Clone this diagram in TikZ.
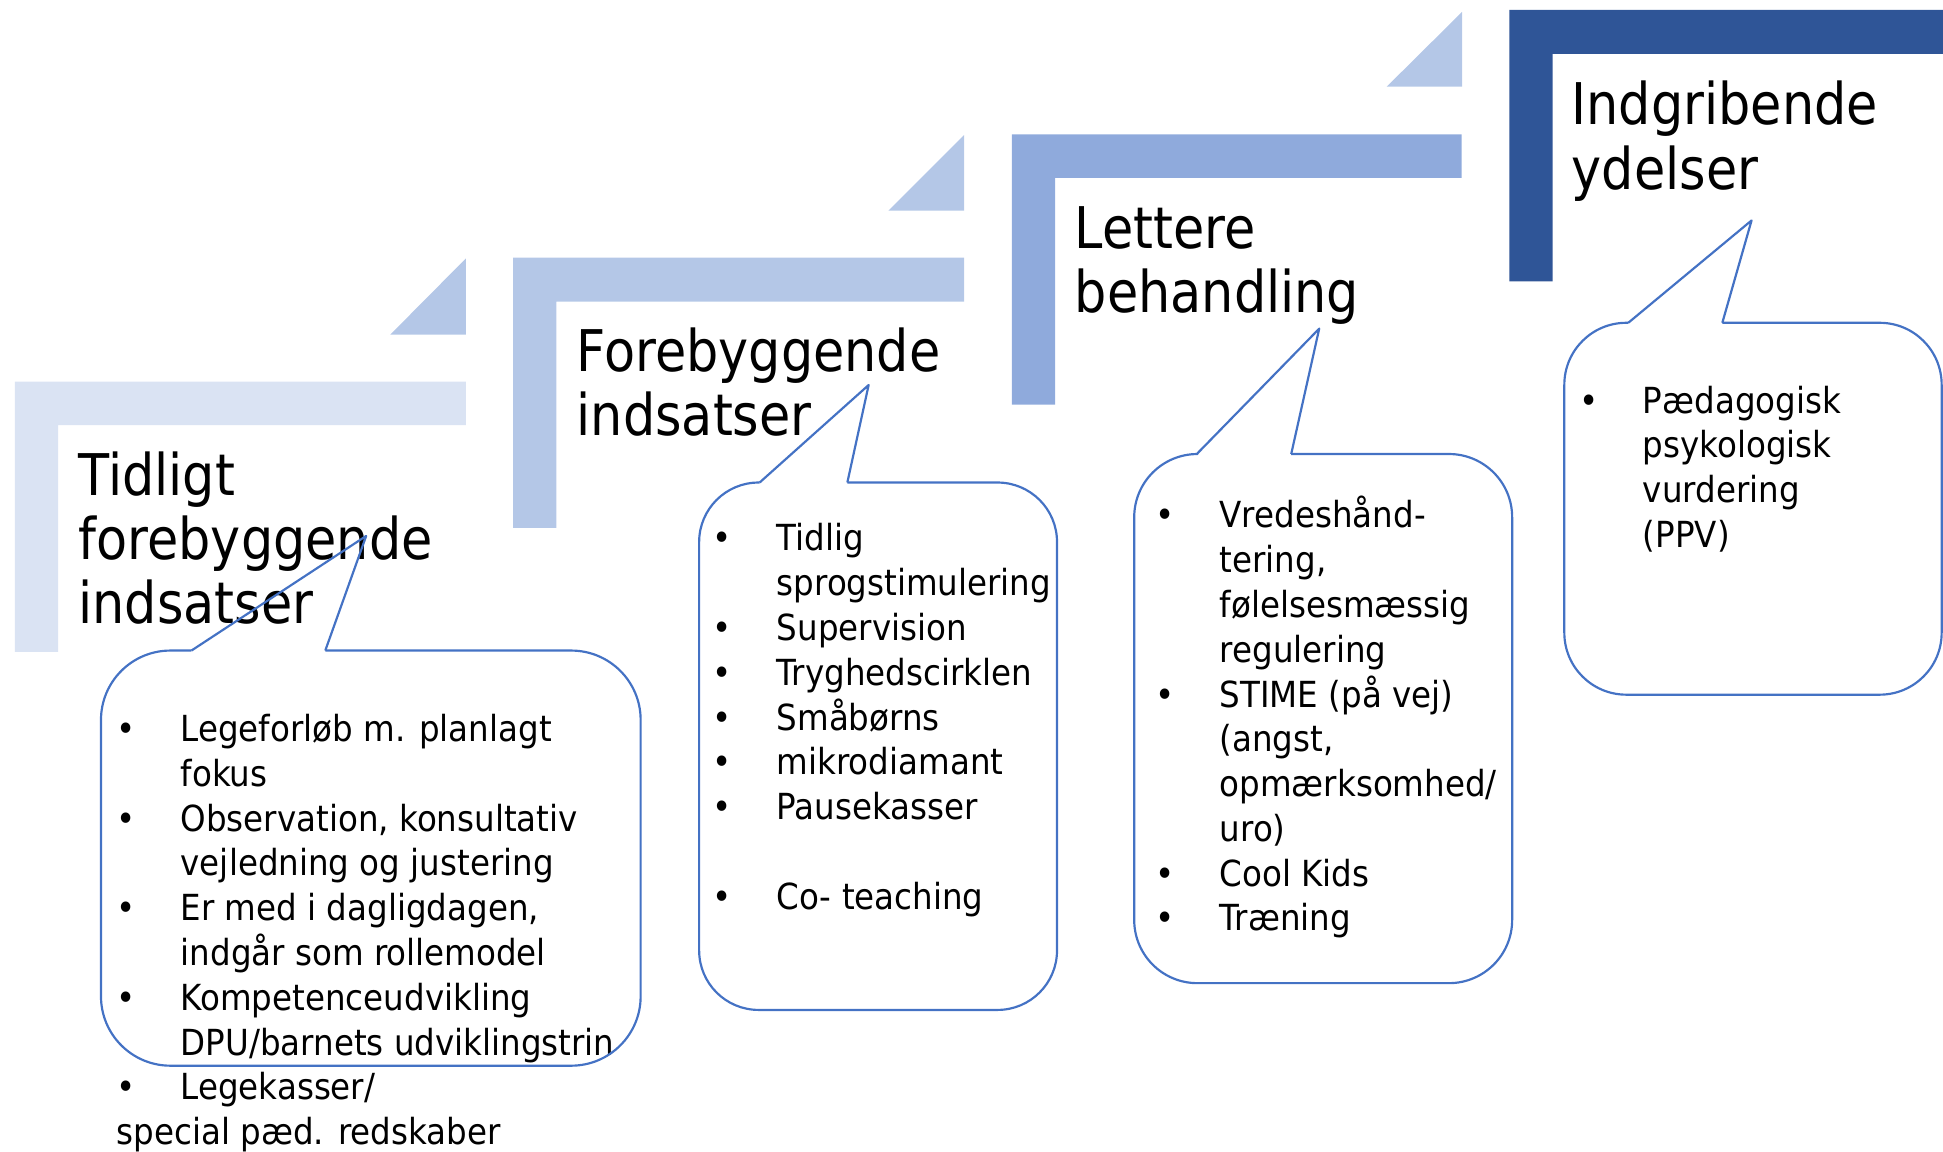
\documentclass[tikz,border=0pt]{standalone}
\usepackage{fontspec}
\setmainfont{DejaVu Sans}
\newfontfamily\titelfont{DejaVu Sans}[FakeStretch=0.885]
\newfontfamily\listefont{DejaVu Sans}[FakeStretch=0.905]
\usepackage{xcolor}
\definecolor{trin1}{HTML}{DAE3F3}
\definecolor{trin2}{HTML}{B4C7E7}
\definecolor{trin3}{HTML}{8FAADC}
\definecolor{trin4}{HTML}{2F5597}
\definecolor{kant}{HTML}{4472C4}
\newcommand{\pkt}{\textbullet &}
\tikzset{
	titel/.style = {anchor=base west, inner sep=0pt, font=\titelfont\fontsize{26.4}{29.5}\selectfont},
	liste/.style = {anchor=base west, inner sep=0pt, font=\listefont\fontsize{16.5}{20.55}\selectfont},
	boble/.style = {draw=kant, line width=1pt, line join=round}
}

\begin{document}
\begin{tikzpicture}[x=0.02cm,y=-0.02cm]
	\useasboundingbox (0,0) rectangle (1568,929);
	\begin{scope}
	% trappen
	\fill [trin1] (12,308) -- (376,308) -- (376,343) -- (47,343) -- (47,526) -- (12,526) -- cycle;
	\fill [trin2] (315,270) -- (376,270) -- (376,208.5) -- cycle;
	\fill [trin2] (414,208) -- (778,208) -- (778,243.5) -- (449,243.5) -- (449,426) -- (414,426) -- cycle;
	\fill [trin2] (717,170) -- (778,170) -- (778,109) -- cycle;
	\fill [trin3] (816.5,108.5) -- (1179.5,108.5) -- (1179.5,143.5) -- (851.5,143.5) -- (851.5,326.5) -- (816.5,326.5) -- cycle;
	\fill [trin2] (1119,70) -- (1180,70) -- (1180,9.5) -- cycle;
	\fill [trin4] (1218,8) -- (1568,8) -- (1568,43.5) -- (1253,43.5) -- (1253,227) -- (1218,227) -- cycle;
	\end{scope}

	\node [titel] (tidligt) at (63,399.5) {\begin{tabular}[t]{@{}l@{}}Tidligt\\forebyggende\\indsatser\end{tabular}};
	\node [titel] (forebyg) at (465,300) {\begin{tabular}[t]{@{}l@{}}Forebyggende\\indsatser\end{tabular}};
	\node [titel] (lettere) at (867,200.4) {\begin{tabular}[t]{@{}l@{}}Lettere\\behandling\end{tabular}};
	\node [titel] (indgrib) at (1268,100.8) {\begin{tabular}[t]{@{}l@{}}Indgribende\\ydelser\end{tabular}};

	\node [liste] (liste1) at (94,598.5) {\begin{tabular}[t]{@{}p{1.03cm}@{}l@{}}
		\pkt Legeforløb m. planlagt\\ & fokus\\
		\pkt Observation, konsultativ\\ & vejledning og justering\\
		\pkt Er med i dagligdagen,\\ & indgår som rollemodel\\
		\pkt Kompetenceudvikling\\ & DPU/barnets udviklingstrin\\
		\pkt Legekasser/\\ \multicolumn{2}{@{}l@{}}{special pæd. redskaber}
	\end{tabular}};
	\node [liste] (liste2) at (575,444.6) {\begin{tabular}[t]{@{}p{1.03cm}@{}l@{}}
		\pkt Tidlig\\ & sprogstimulering\\
		\pkt Supervision\\
		\pkt Tryghedscirklen\\
		\pkt Småbørns\\
		\pkt mikrodiamant\\
		\pkt Pausekasser\\ & \\
		\pkt Co- teaching
	\end{tabular}};
	\node [liste] (liste3) at (932.5,426) {\begin{tabular}[t]{@{}p{1.03cm}@{}l@{}}
		\pkt Vredeshånd-\\ & tering,\\ & følelsesmæssig\\ & regulering\\
		\pkt STIME (på vej)\\ & (angst,\\ & opmærksomhed/\\ & uro)\\
		\pkt Cool Kids\\
		\pkt Træning
	\end{tabular}};
	\node [liste] (liste4) at (1274,333.4) {\begin{tabular}[t]{@{}p{1.03cm}@{}l@{}}
		\pkt Pædagogisk\\ & psykologisk\\ & vurdering\\ & (PPV)
	\end{tabular}};

	% talebobler
	\draw [boble,rounded corners=1.12cm] (262.5,525) -- (517,525) -- (517,860) -- (81.5,860) -- (81.5,525) -- (154.5,525);
	\draw [boble] (154.5,525) -- (295.5,432.5) -- (262.5,525);
	\draw [boble,rounded corners=0.96cm] (683.8,389.4) -- (853,389.4) -- (853,815) -- (564.2,815) -- (564.2,389.4) -- (613,389.4);
	\draw [boble] (613,389.4) -- (701,310.7) -- (683.8,389.4);
	\draw [boble,rounded corners=1.02cm] (1042,366.4) -- (1220.3,366.4) -- (1220.3,793.4) -- (915.3,793.4) -- (915.3,366.4) -- (965.8,366.4);
	\draw [boble] (965.8,366.4) -- (1064.6,265.2) -- (1042,366.4);
	\draw [boble,rounded corners=1cm] (1389.9,260.5) -- (1566.9,260.5) -- (1566.9,560.6) -- (1262.4,560.6) -- (1262.4,260.5) -- (1314,260.5);
	\draw [boble] (1314,260.5) -- (1413.5,177.9) -- (1389.9,260.5);
\end{tikzpicture}
\end{document}
